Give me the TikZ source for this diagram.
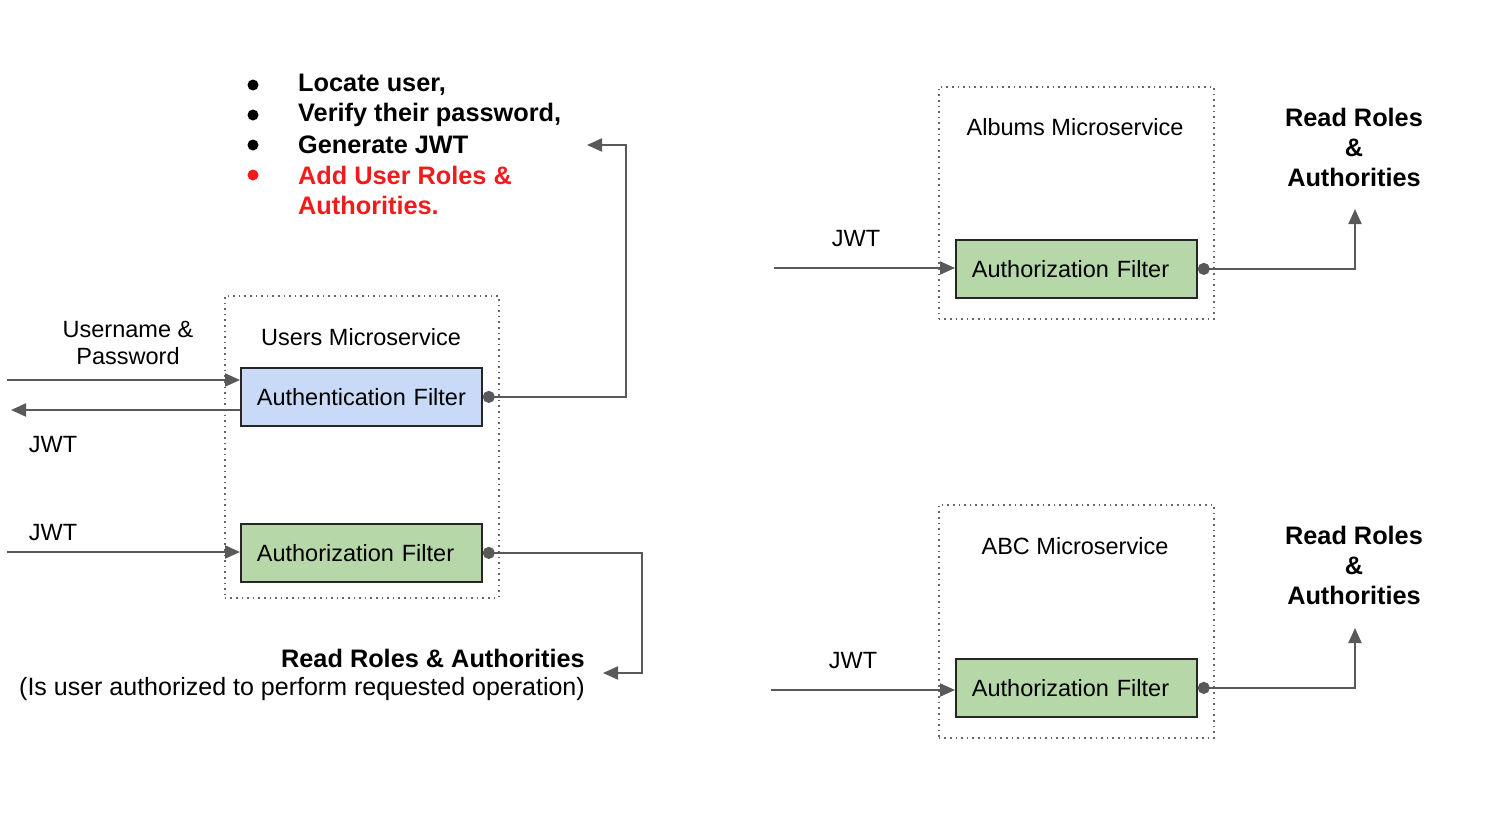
\documentclass[tikz,border=0pt]{standalone}
\usepackage{fontspec}
\setmainfont{Liberation Sans}
\usetikzlibrary{arrows.meta}
\definecolor{linegray}{HTML}{595959}
\definecolor{authblue}{HTML}{C9DAF8}
\definecolor{authgreen}{HTML}{B6D7A8}
\definecolor{alertred}{HTML}{F21B1B}
\begin{document}
\begin{tikzpicture}[x=1pt,y=-1pt,
  regular/.style={inner sep=0pt, font=\fontsize{23.5}{27}\selectfont},
  boldtext/.style={inner sep=0pt, font=\bfseries\fontsize{25.3}{30}\selectfont},
  filterbox/.style={draw=black!85, line width=1.8pt, anchor=north west,
    text width=209pt, inner xsep=16pt, inner ysep=0pt, align=left,
    minimum height=58pt, font=\fontsize{23.5}{27}\selectfont},
  servicebox/.style={draw=black!60, line width=1.6pt, dash pattern=on 1.6pt off 4pt, anchor=north west, inner sep=0pt},
  conn/.style={draw=linegray, line width=2pt, -{Triangle[length=15pt,width=13pt]}},
  dotconn/.style={draw=linegray, line width=2pt, {Circle[length=12pt]}-{Triangle[length=15pt,width=13pt]}},
  bulletdot/.style={fill=black},
]
\useasboundingbox (0,0) rectangle (1486,819);

% ---------- Users microservice ----------
\node[servicebox, minimum width=274pt, minimum height=302pt] (users) at (224,295) {};
\node[regular] (userslabel) at (361,337) {Users Microservice};
\node[filterbox, fill=authblue] (authn) at (240,367) {Authentication Filter};
\node[filterbox, fill=authgreen] (authz1) at (240,523) {Authorization Filter};

\node[regular, align=center] (cred) at (128,343) {Username \&\\Password};
\node[regular] (jwtout) at (53,445) {JWT};
\node[regular] (jwtin1) at (53,533) {JWT};

\coordinate (credstart) at (7,380);
\coordinate (jwtend) at (11,410);
\coordinate (jwtstart1) at (7,552);
\draw[conn] (credstart) -- (credstart -| authn.west);
\draw[conn] (authn.west |- jwtend) -- (jwtend);
\draw[conn] (jwtstart1) -- (jwtstart1 -| authz1.west);

% bullet list
\fill[bulletdot] (253,85) circle (5.5pt);
\fill[bulletdot] (253,115) circle (5.5pt);
\fill[bulletdot] (253,145) circle (5.5pt);
\fill[alertred] (253,175) circle (5.5pt);
\node[boldtext, anchor=west] (b1) at (298,85) {Locate user,};
\node[boldtext, anchor=west] (b2) at (298,115) {Verify their password,};
\node[boldtext, anchor=west] (b3) at (298,145) {Generate JWT};
\node[boldtext, anchor=west, text=alertred] (b4) at (298,175) {Add User Roles \&};
\node[boldtext, anchor=west, text=alertred] (b5) at (298,205) {Authorities.};

\coordinate (listarrow) at (587,145);
\draw[dotconn] (authn.east) -- ++(143,0) |- (listarrow);

% read roles (users)
\node[boldtext, anchor=east] (rr0) at (585,658) {Read Roles \& Authorities};
\node[regular, font=\fontsize{25}{30}\selectfont, anchor=east] (rr0b) at (585,689) {(Is user authorized to perform requested operation)};
\coordinate (rrarrow) at (603,673);
\draw[dotconn] (authz1.east) -- ++(159,0) |- (rrarrow);

% ---------- Albums microservice ----------
\node[servicebox, minimum width=275pt, minimum height=232pt] (albums) at (938,86) {};
\node[regular] (albumslabel) at (1075,127) {Albums Microservice};
\node[filterbox, fill=authgreen] (authz2) at (955,239) {Authorization Filter};
\node[regular] (jwtin2) at (856,239) {JWT};
\coordinate (jwtstart2) at (774,268);
\draw[conn] (jwtstart2) -- (jwtstart2 -| authz2.west);
\node[boldtext, align=center] (rr1) at (1354,147) {Read Roles\\\&\\Authorities};
\coordinate (rr1arrow) at (1355,209);
\draw[dotconn] (authz2.east) -| (rr1arrow);

% ---------- ABC microservice ----------
\node[servicebox, minimum width=275pt, minimum height=233pt] (abc) at (938,504) {};
\node[regular] (abclabel) at (1075,546) {ABC Microservice};
\node[filterbox, fill=authgreen] (authz3) at (955,658) {Authorization Filter};
\node[regular] (jwtin3) at (853,661) {JWT};
\coordinate (jwtstart3) at (771,690);
\draw[conn] (jwtstart3) -- (jwtstart3 -| authz3.west);
\node[boldtext, align=center] (rr2) at (1354,565) {Read Roles\\\&\\Authorities};
\coordinate (rr2arrow) at (1355,628);
\draw[dotconn] (authz3.east) -| (rr2arrow);
\end{tikzpicture}
\end{document}
